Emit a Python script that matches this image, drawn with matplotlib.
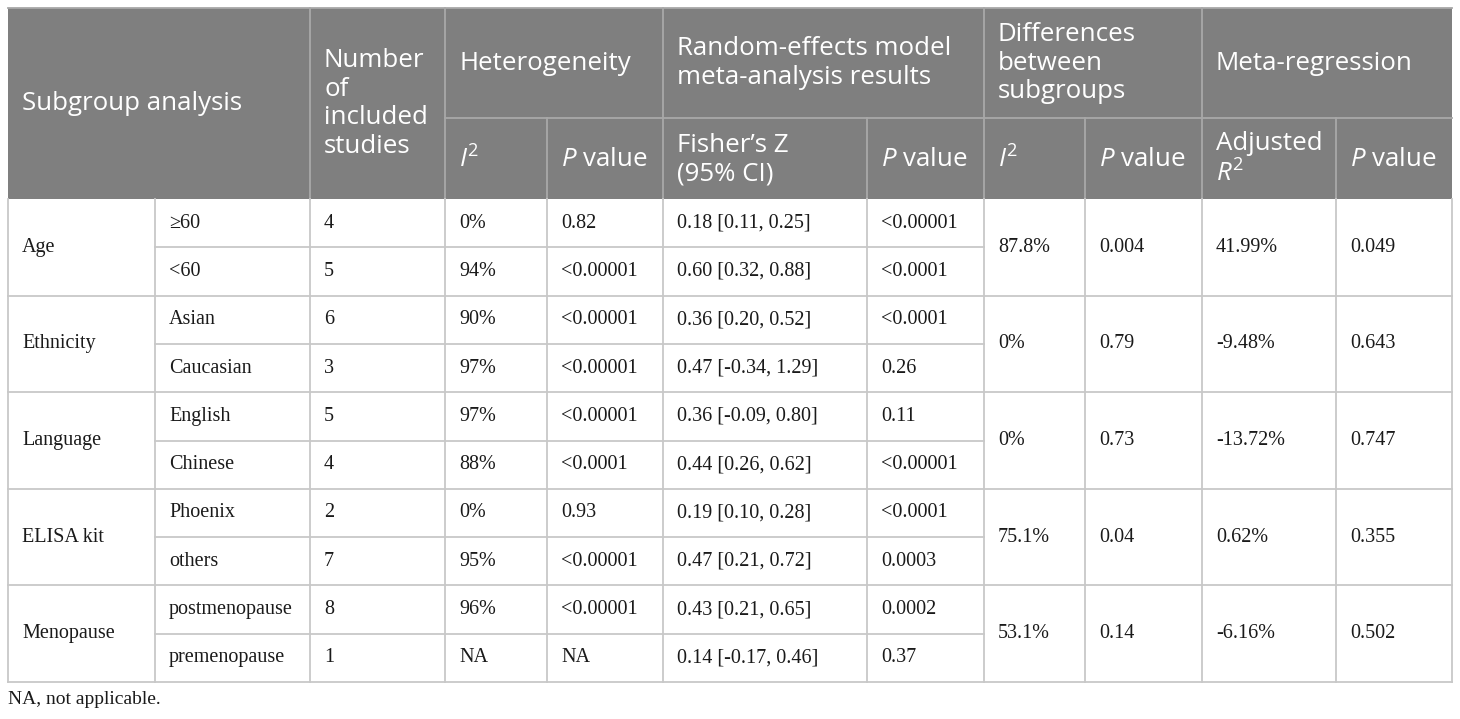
import matplotlib
matplotlib.use("Agg")
import matplotlib.pyplot as plt
from matplotlib.patches import Rectangle

# table contents
groups = ['Age', 'Ethnicity', 'Language', 'ELISA kit', 'Menopause']
subgroups = ['≥60', '<60', 'Asian', 'Caucasian', 'English', 'Chinese',
             'Phoenix', 'others', 'postmenopause', 'premenopause']
n_studies = ['4', '5', '6', '3', '5', '4', '2', '7', '8', '1']
het_i2 = ['0%', '94%', '90%', '97%', '97%', '88%', '0%', '95%', '96%', 'NA']
het_p = ['0.82', '<0.00001', '<0.00001', '<0.00001', '<0.00001', '<0.0001',
         '0.93', '<0.00001', '<0.00001', 'NA']
fisher_z = ['0.18 [0.11, 0.25]', '0.60 [0.32, 0.88]', '0.36 [0.20, 0.52]',
            '0.47 [-0.34, 1.29]', '0.36 [-0.09, 0.80]', '0.44 [0.26, 0.62]',
            '0.19 [0.10, 0.28]', '0.47 [0.21, 0.72]', '0.43 [0.21, 0.65]',
            '0.14 [-0.17, 0.46]']
re_p = ['<0.00001', '<0.0001', '<0.0001', '0.26', '0.11', '<0.00001',
        '<0.0001', '0.0003', '0.0002', '0.37']
diff_i2 = ['87.8%', '0%', '0%', '75.1%', '53.1%']
diff_p = ['0.004', '0.79', '0.73', '0.04', '0.14']
adj_r2 = ['41.99%', '-9.48%', '-13.72%', '0.62%', '-6.16%']
reg_p = ['0.049', '0.643', '0.747', '0.355', '0.502']
footnote = 'NA, not applicable.'

plt.rcParams['mathtext.fontset'] = 'custom'
plt.rcParams['mathtext.rm'] = 'Open Sans'
plt.rcParams['mathtext.it'] = 'Open Sans:italic'

HEAD_FONT = 'Open Sans'
BODY_FONT = 'Liberation Serif'
HEAD_BG = '#7f7f7f'
HEAD_LINE = '#a8a8a8'
BODY_LINE = '#c8c8c8'

# geometry in pixels
W, H = 1460, 719
cols = [8, 155, 310, 445, 547, 663, 867, 984, 1085, 1202, 1336, 1452]
top, mid, hbot = 8, 118, 199
row_h = (682 - hbot) / 10
rows = [hbot + i * row_h for i in range(11)]
pad = 14

fig = plt.figure(figsize=(W / 100, H / 100), dpi=100)
ax = fig.add_axes([0, 0, 1, 1])
ax.set_xlim(0, W)
ax.set_ylim(H, 0)
ax.axis('off')

# header
ax.add_patch(Rectangle((cols[0], top), cols[-1] - cols[0], hbot - top,
                       facecolor=HEAD_BG, edgecolor='none'))
hkw = dict(color='white', fontsize=18.6, family=HEAD_FONT, va='center',
           ha='left', linespacing=1.2)
ax.text(cols[0] + pad, (top + hbot) / 2, 'Subgroup analysis', **hkw)
ax.text(cols[2] + pad, (top + hbot) / 2, 'Number\nof\nincluded\nstudies', **hkw)
ax.text(cols[3] + pad, (top + mid) / 2, 'Heterogeneity', **hkw)
ax.text(cols[5] + pad, (top + mid) / 2,
        'Random-effects model\nmeta-analysis results', **hkw)
ax.text(cols[7] + pad, (top + mid) / 2, 'Differences\nbetween\nsubgroups', **hkw)
ax.text(cols[9] + pad, (top + mid) / 2, 'Meta-regression', **hkw)
sub_heads = {3: '$I^2$', 4: '$P$ value', 5: 'Fisher’s Z\n(95% CI)',
             6: '$P$ value', 7: '$I^2$', 8: '$P$ value', 9: 'Adjusted\n$R^2$',
             10: '$P$ value'}
for c, t in sub_heads.items():
    ax.text(cols[c] + pad, (mid + hbot) / 2 + 1, t, **hkw)

# header lines
lw = 1.3
ax.plot([cols[3], cols[-1]], [mid, mid], color=HEAD_LINE, lw=lw)
for c in [2, 3, 5, 7, 9]:
    ax.plot([cols[c], cols[c]], [top, hbot], color=HEAD_LINE, lw=lw)
for c in [4, 6, 8, 10]:
    ax.plot([cols[c], cols[c]], [mid, hbot], color=HEAD_LINE, lw=lw)
ax.plot([cols[0], cols[-1]], [top, top], color=HEAD_LINE, lw=lw)

# body
bkw = dict(color='#1a1a1a', fontsize=14.5, family=BODY_FONT, va='center',
           ha='left')
per_row = [subgroups, n_studies, het_i2, het_p, fisher_z, re_p]
for i in range(10):
    yc = (rows[i] + rows[i + 1]) / 2
    for j, col in enumerate(per_row):
        ax.text(cols[j + 1] + pad, yc, col[i], **bkw)
per_group = [diff_i2, diff_p, adj_r2, reg_p]
for g in range(len(groups)):
    yc = rows[2 * g + 1]
    ax.text(cols[0] + pad, yc, groups[g], **bkw)
    for j, col in enumerate(per_group):
        ax.text(cols[j + 7] + pad, yc, col[g], **bkw)

# body lines
for i in range(1, 11):
    if i % 2 == 0:
        ax.plot([cols[0], cols[-1]], [rows[i], rows[i]], color=BODY_LINE, lw=lw)
    else:
        ax.plot([cols[1], cols[7]], [rows[i], rows[i]], color=BODY_LINE, lw=lw)
for c in range(len(cols)):
    ax.plot([cols[c], cols[c]], [hbot, rows[-1]], color=BODY_LINE, lw=lw)

ax.text(cols[0], 700, footnote, color='#1a1a1a', fontsize=14,
        family=BODY_FONT, va='center', ha='left')

fig.savefig('out.png', dpi=100, facecolor='white')
